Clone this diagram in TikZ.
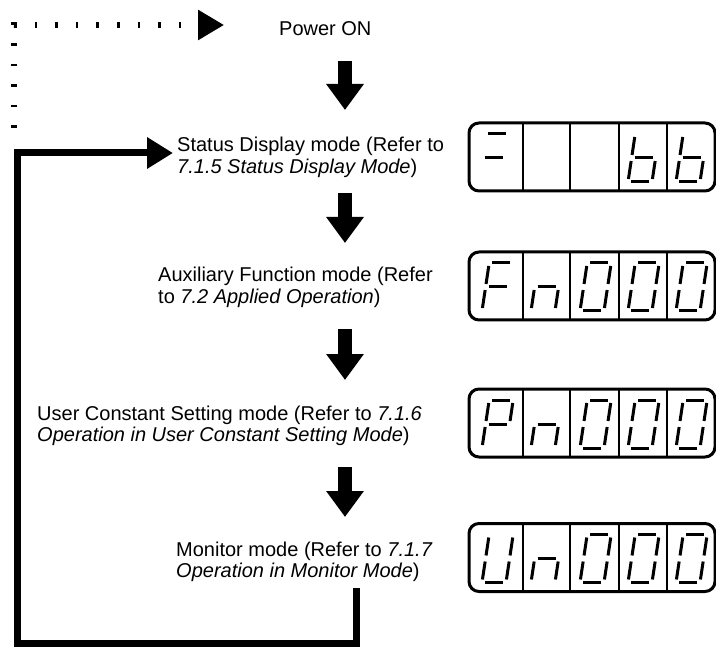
\documentclass[tikz,border=0pt]{standalone}
\usepackage{fontspec}
\setmainfont{Liberation Sans}
\usetikzlibrary{arrows.meta}
\tikzset{
  seg/.style={line width=3pt, line cap=butt},
  lbl/.style={anchor=base west, inner sep=0pt, font=\fontsize{20}{21.6}\selectfont},
  dispbox/.style={draw, line width=3pt, rounded corners=10pt, minimum width=246pt, minimum height=68pt, inner sep=0pt},
  divider/.style={line width=2.5pt},
  bigarrow/.style={line width=14pt, -{Triangle[width=36pt,length=26pt]}},
  loopline/.style={line width=7pt, line join=miter, -{Triangle[width=30pt,length=26pt]}},
  dotline/.style={line width=6pt, dash pattern=on 2.5pt off 18.1pt, -{Triangle[width=29pt,length=26pt]}},
}
% seven-segment pieces (local: origin bottom-left, up = negative y)
\def\sgA{\draw[seg] (3,-48) -- (21,-48);}
\def\sgB{\draw[seg] (24,-45) -- (24,-27);}
\def\sgC{\draw[seg] (24,-21) -- (24,-3);}
\def\sgD{\draw[seg] (3,0) -- (21,0);}
\def\sgE{\draw[seg] (0,-3) -- (0,-21);}
\def\sgF{\draw[seg] (0,-27) -- (0,-45);}
\def\sgG{\draw[seg] (3,-24) -- (21,-24);}
\def\chEq{A,G}
\def\chb{F,E,G,C,D}
\def\chF{A,F,E,G}
\def\chn{E,G,C}
\def\chO{A,B,C,D,E,F}
\def\chP{A,B,F,G,E}
\def\chU{B,C,D,E,F}
\newcommand\segdigit[3]{%
  \begin{scope}[shift={(#1,#2)},xslant=0.15]
    \foreach \s in #3 {\csname sg\s\endcsname}
  \end{scope}}
\newcommand\celllines[1]{%
  \foreach \xx in {523,570,619,667}{\draw[divider] (\xx,#1) -- (\xx,#1+68);}}
\begin{document}
\begin{tikzpicture}[x=1pt,y=-1pt]
\fill[white] (0,0) rectangle (716,658);
\useasboundingbox (0,0) rectangle (716,658);

% dotted power-on line
\coordinate (dstart) at (14,128);
\coordinate (dcorner) at (14,25);
\coordinate (dend) at (224,25);
\draw[dotline] (dstart) -- (dcorner) -- (dend);

% texts
\node[lbl] (pwr) at (279,36) {Power ON};
\node[lbl] (st1) at (177,152) {Status Display mode (Refer to};
\node[lbl] (st2) at (177,173.5) {\textit{7.1.5 Status Display Mode})};
\node[lbl] (ax1) at (158,282) {Auxiliary Function mode (Refer};
\node[lbl] (ax2) at (158,303.5) {to \textit{7.2 Applied Operation})};
\node[lbl] (us1) at (37,420) {User Constant Setting mode (Refer to \textit{7.1.6}};
\node[lbl] (us2) at (37,441.5) {\textit{Operation in User Constant Setting Mode})};
\node[lbl] (mo1) at (176,556) {Monitor mode (Refer to \textit{7.1.7}};
\node[lbl] (mo2) at (176,577.5) {\textit{Operation in Monitor Mode})};

% down arrows
\coordinate (a1s) at (345,61);  \coordinate (a1e) at (345,110);
\coordinate (a2s) at (345,193); \coordinate (a2e) at (345,243);
\coordinate (a3s) at (345,329); \coordinate (a3e) at (345,380);
\coordinate (a4s) at (345,467); \coordinate (a4e) at (345,517);
\draw[bigarrow] (a1s) -- (a1e);
\draw[bigarrow] (a2s) -- (a2e);
\draw[bigarrow] (a3s) -- (a3e);
\draw[bigarrow] (a4s) -- (a4e);

% feedback loop
\coordinate (ls) at (356,588);
\coordinate (l1) at (356,643);
\coordinate (l2) at (17,643);
\coordinate (l3) at (17,153);
\coordinate (le) at (173,153);
\draw[loopline] (ls) -- (l1) -- (l2) -- (l3) -- (le);

% displays
\node[dispbox] (disp1) at (592,157) {};
\celllines{123}
\segdigit{478}{182}{\chEq}
\segdigit{628}{182}{\chb}
\segdigit{676}{182}{\chb}

\node[dispbox] (disp2) at (592,286) {};
\celllines{252}
\segdigit{482}{311}{\chF}
\segdigit{531}{311}{\chn}
\segdigit{580}{311}{\chO}
\segdigit{628}{311}{\chO}
\segdigit{676}{311}{\chO}

\node[dispbox] (disp3) at (592,423) {};
\celllines{389}
\segdigit{482}{448}{\chP}
\segdigit{531}{448}{\chn}
\segdigit{580}{448}{\chO}
\segdigit{628}{448}{\chO}
\segdigit{676}{448}{\chO}

\node[dispbox] (disp4) at (592,557.5) {};
\celllines{523.5}
\segdigit{482}{582.5}{\chU}
\segdigit{531}{582.5}{\chn}
\segdigit{580}{582.5}{\chO}
\segdigit{628}{582.5}{\chO}
\segdigit{676}{582.5}{\chO}
\end{tikzpicture}
\end{document}
